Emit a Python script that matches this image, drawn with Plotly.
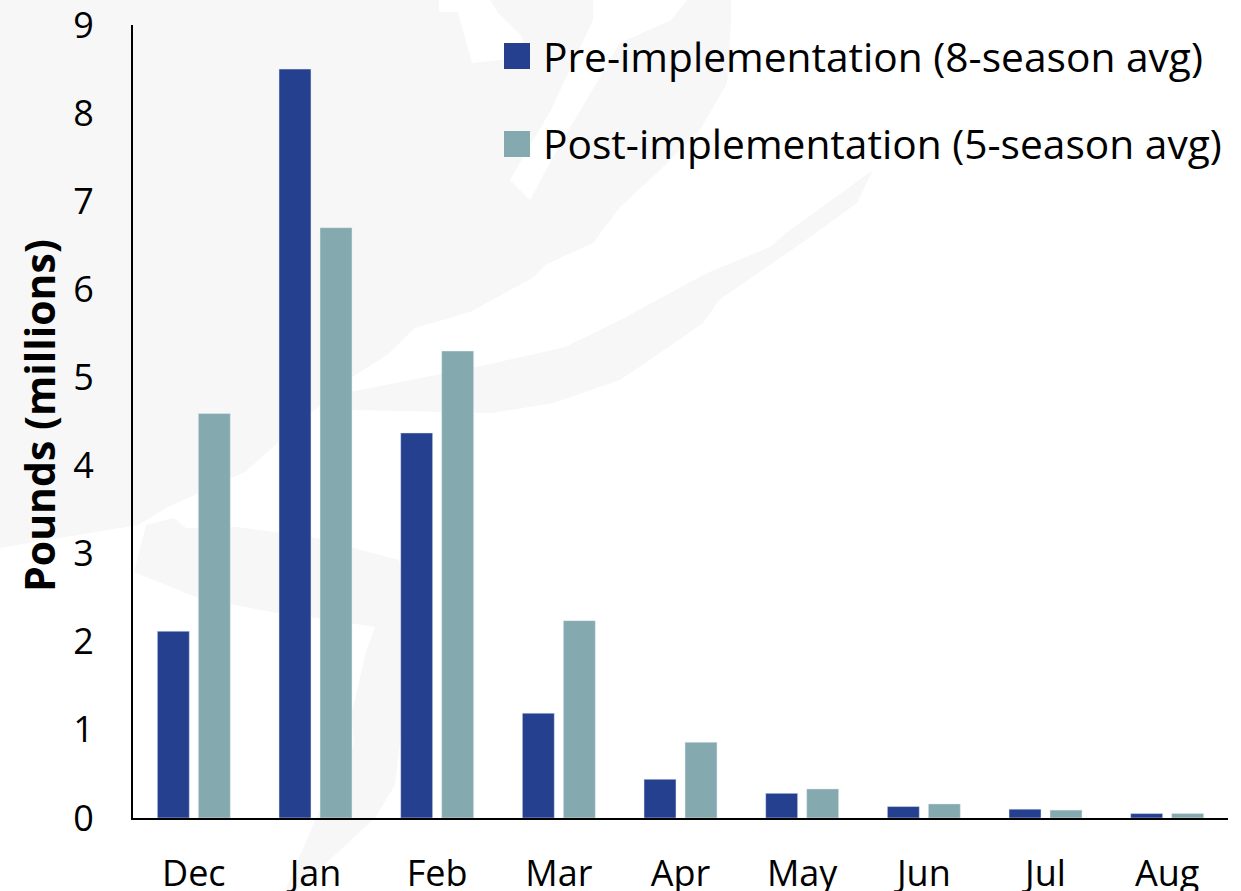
import plotly.graph_objects as go

months = ["Dec", "Jan", "Feb", "Mar", "Apr", "May", "Jun", "Jul", "Aug"]
pre_name = "Pre-implementation (8-season avg)"
post_name = "Post-implementation (5-season avg)"
pre_values = [2.12, 8.5, 4.37, 1.19, 0.44, 0.28, 0.13, 0.10, 0.05]
post_values = [4.59, 6.7, 5.3, 2.24, 0.86, 0.33, 0.16, 0.09, 0.05]
y_ticks = list(range(10))

FONT = "Open Sans"
PRE = "#25408F"
POST = "#84A9AE"
W, H = 1241, 891
L, R, T, B = 133, 1228, 25, 818

# faint map watermark behind the chart, outline in page pixels
land_a = [(0,0),(439,0),(439,12),(458,12),(472,63),(525,57),(522,37),(498,13),(490,0),(593,0),(593,20),
          (551,110),(510,180),(530,200),(524,233),(530,263),(534,277),(470,312),(415,328),(387,355),
          (352,377),(245,472),(166,508),(138,525),(0,548)]
land_c = [(687,0),(731,0),(731,23),(727,83),(700,130),(660,170),(620,207),(593,243),(545,265),(534,277),
          (530,263),(524,233),(530,200),(553,157),(620,43),(671,20)]
land_e = [(873,170),(786,233),(770,247),(707,273),(620,320),(565,347),(486,365),(350,392),(352,410),
          (492,413),(553,403),(620,380),(660,353),(703,323),(719,300),(806,240),(857,203)]
land_f = [(134,572),(146,525),(174,518),(186,528),(237,527),(316,538),(399,560),(410,625),(405,700),
          (395,785),(375,818),(296,891),(285,891),(316,818),(354,745),(352,712),(366,652),(375,627),
          (316,618),(277,613),(198,598)]


def px(x):
    return (x - L) / (R - L)


def py(y):
    return (B - y) / (B - T)


def outline(points):
    return "M" + " L".join(f"{px(x):.5f},{py(y):.5f}" for x, y in points) + " Z"


shapes = [dict(type="path", xref="paper", yref="paper", path=outline(p), fillcolor="#F7F7F7",
               line_width=0, layer="below") for p in (land_a, land_c, land_e, land_f)]

swatches = [(504, 530, 43, 69, PRE), (504, 530, 131, 157, POST)]
for x0, x1, y0, y1, colour in swatches:
    shapes.append(dict(type="rect", xref="paper", yref="paper", x0=px(x0), x1=px(x1), y0=py(y1), y1=py(y0),
                       fillcolor=colour, line_width=0))

annotations = [
    dict(text=pre_name, xref="paper", yref="paper", x=px(541), y=py(56), xanchor="left", yanchor="middle",
         showarrow=False, font=dict(family=FONT, size=40.7, color="#000000")),
    dict(text=post_name, xref="paper", yref="paper", x=px(541), y=py(143), xanchor="left", yanchor="middle",
         showarrow=False, font=dict(family=FONT, size=40.7, color="#000000")),
    dict(text="<b>Pounds (millions)</b>", xref="paper", yref="paper", x=px(39), y=py(416), xanchor="center",
         yanchor="middle", textangle=-90, showarrow=False, font=dict(family=FONT, size=41, color="#000000")),
]

fig = go.Figure()
fig.add_bar(x=months, y=pre_values, name=pre_name, marker_color=PRE)
fig.add_bar(x=months, y=post_values, name=post_name, marker_color=POST)

fig.update_layout(
    width=W, height=H, autosize=False,
    margin=dict(l=L, r=W - R, t=T, b=H - B, pad=0),
    paper_bgcolor="white", plot_bgcolor="rgba(0,0,0,0)",
    barmode="group", bargap=0.326, bargroupgap=0.22,
    showlegend=False, shapes=shapes, annotations=annotations,
    font=dict(family=FONT, color="#000000"),
)
fig.update_xaxes(
    type="category", automargin=False, showgrid=False, zeroline=False, showline=True, linecolor="#000000", linewidth=2,
    ticks="outside", ticklen=23, tickcolor="rgba(0,0,0,0)", tickfont=dict(family=FONT, size=36),
    ticklabeloverflow="allow",
)
fig.update_yaxes(
    range=[0, 9], automargin=False, tickvals=y_ticks, showgrid=False, zeroline=False, showline=True, linecolor="#000000",
    linewidth=2, ticks="outside", ticklen=30, tickcolor="rgba(0,0,0,0)", tickfont=dict(family=FONT, size=36),
    ticklabeloverflow="allow",
)

fig.write_html("out.html", config=dict(displayModeBar=False),
               post_script="document.documentElement.style.margin='0';document.body.style.margin='0';document.body.style.overflow='hidden';")
